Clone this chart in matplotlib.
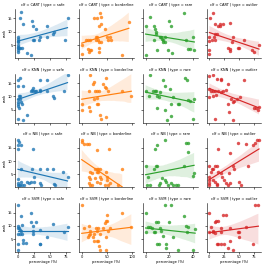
import numpy as np
import pandas as pd
import matplotlib
matplotlib.use("Agg")
import matplotlib.pyplot as plt
import seaborn as sns

clfs = ["CART", "KNN", "NB", "SVM"]
types = ["safe", "borderline", "rare", "outlier"]
x_ticks = {"safe": [0, 25, 50, 75], "borderline": [0, 50, 100], "rare": [0, 20, 40], "outlier": [0, 25, 50, 75]}
y_ticks = [5, 10, 15]

cart_safe_pct = [3, 5, 8, 0, 0, 0, 0, 0, 0, 0, 0, 0, 2, 4, 7, 14, 21, 22, 24.5, 28.6, 24, 26, 34, 33, 45, 45, 55, 56, 74, 78]
cart_safe_rank = [15, 17.3, 13, 8, 7.2, 6.6, 6, 5, 4.1, 3.8, 3.2, 2.3, 4, 4, 4, 2, 1.4, 14, 12, 11, 7, 7, 8, 7, 12, 8, 9.3, 9.8, 7, 15]
cart_border_pct = [0, 0, 14, 12, 16, 18, 8, 12, 16, 25, 30, 36, 39, 35, 39, 28, 31, 28, 32, 35, 38, 35, 35, 50, 55, 51, 57, 46, 80, 93]
cart_border_rank = [5, 1.7, 2.3, 3.5, 3, 3, 7, 7, 7, 15, 15, 17, 15.5, 12, 13, 8, 8, 7, 7, 6, 6, 4, 2.4, 8, 8, 7, 7, 11, 1.3, 13.7]
cart_rare_pct = [0, 0, 3.6, 7, 8, 8.6, 7, 8.6, 9.6, 12, 13, 14, 15, 16, 16, 15, 20, 21.5, 22.4, 19, 32.5, 34, 36, 37, 39.5, 41]
cart_rare_rank = [12, 1.4, 15.5, 12, 11, 10, 7, 9, 3, 8, 8, 7.4, 7, 6, 8, 6, 14, 12, 2, 3, 17, 7, 3.5, 3.5, 8, 3]
cart_out_pct = [0, 0, 0, 0, 1, 6.5, 10, 15, 18, 17, 22, 10, 12, 7, 9, 4, 34, 37, 39, 31, 34, 34, 48, 50, 58, 72, 75, 83]
cart_out_rank = [8, 6.6, 3.2, 1.7, 15, 17, 13, 12, 12, 13, 13, 9, 9, 8, 7, 7, 13.4, 6, 8, 4, 3.5, 2.7, 4, 4, 7, 3, 2.3, 5]

knn_safe_pct = [0, 0, 4, 8, 0, 2, 3, 0, 0, 0, 2, 0, 4, 5, 7, 8, 14, 20, 22, 24, 23, 27, 29, 35, 35, 35, 45, 45, 55, 56, 73, 78]
knn_safe_rank = [16, 14, 16.8, 14, 9, 10, 10, 8, 7, 6.3, 5.7, 1.7, 9, 8, 7, 1, 3, 12, 12.5, 12, 13, 12, 12, 12, 16, 12.5, 16, 12, 10, 9.5, 12, 18]
knn_border_pct = [0, 0, 13.9, 15.8, 13.9, 15.8, 22, 25, 26.6, 31, 34.8, 23.4, 31, 29.7, 32.9, 36, 38, 42.4, 45.6, 48.7, 51.9, 47.5, 48.7, 80, 98]
knn_border_rank = [7, 5, 12, 18, 6, 4.5, 14.7, 15.5, 12, 12, 12, 9, 9.5, 7, 7, 3, 1.7, 14.7, 13.5, 13, 12, 16.8, 2.3, 12, 10]
knn_rare_pct = [0, 2.8, 3.6, 6.2, 7.7, 8.6, 9.6, 11.7, 12, 14.6, 16, 10, 16, 18, 20.7, 21.5, 21.5, 23, 27, 28, 33, 34.5, 36, 37, 39.5, 41]
knn_rare_rank = [12, 10, 18, 12, 12, 12, 10, 9.8, 11.6, 16, 13.8, 5.7, 4.8, 1, 12.8, 7, 2.7, 9.8, 7, 7, 16.8, 16, 8.5, 8.2, 1.7, 9]
knn_out_pct = [0, 0, 0, 6.5, 2, 5.5, 9.3, 14.8, 18.6, 6.5, 11, 12, 18.6, 20, 23, 27, 9, 31, 31, 36, 39, 42, 47, 51, 33, 39, 58, 75, 78, 82, 83]
knn_out_rank = [17.8, 12.8, 9.8, 18, 12, 12, 12, 12, 11.8, 10, 10.5, 16.5, 16.5, 16, 12, 12.3, 1.7, 14.7, 7, 9, 8, 8.3, 9, 9.7, 4, 1, 16, 5.7, 5.7, 4.8, 6]

nb_safe_pct = [0, 2, 0, 0, 5, 0, 0, 2, 4, 7, 9, 5, 5, 23, 22, 21, 25, 26, 35, 35, 36, 45, 55, 57, 58, 71, 78, 14, 18, 0]
nb_safe_rank = [18, 17, 16, 14.7, 16, 1.7, 1, 1, 1, 1, 1, 7, 2.3, 14.7, 7, 2, 4.2, 2.3, 7, 1.7, 1, 7, 7, 1.5, 1, 6, 4.2, 2, 1.7, 3.2]
nb_border_pct = [0, 0, 4.4, 9.5, 14, 30, 54, 27, 30, 33, 36, 30, 33, 17, 20, 14, 16, 14, 17, 20, 36, 39, 36, 47, 50, 50, 45, 52, 55, 71, 80, 27, 31]
nb_border_rank = [18, 17, 16.5, 16.5, 16.5, 14, 14.7, 7, 7, 7, 7, 6, 6, 6, 5.4, 4.2, 3.2, 1.7, 1, 1, 4.2, 3.2, 1.7, 6, 4.2, 3, 1, 1, 1.7, 1, 7, 3.6, 2]
nb_rare_pct = [0, 2, 3.6, 7, 7.7, 9.6, 8.6, 9.6, 11.3, 11.9, 16, 14, 16, 17.4, 18.8, 23, 21, 25.6, 27, 32.6, 34, 35.4, 36, 39.5, 40.8, 1.4]
nb_rare_rank = [8, 4.2, 1, 7, 14.7, 16, 8, 8, 1, 1.7, 18, 3.6, 3, 2.3, 1, 1, 1.7, 1, 1, 8, 16.8, 16.8, 13.5, 4.5, 5.4, 1]
nb_out_pct = [0, 0, 0, 0, 0, 2, 4, 6.5, 9, 6.5, 9, 12, 13, 15, 12, 15, 18.6, 21, 25, 27, 31, 34, 33, 34, 39, 42, 48, 50, 53, 61, 64, 73, 76, 80, 83]
nb_out_rank = [8, 4.2, 3, 1.7, 1, 6, 7, 7, 8, 3, 2.3, 1.5, 1, 14.7, 8, 6, 5.4, 4.2, 3, 1.7, 1, 1.7, 5.4, 13, 8, 7, 16.8, 2.3, 1, 16.5, 8, 16, 16.8, 17.8, 17.8]

svm_safe_pct = [0, 0, 0, 0, 0, 0, 5, 2, 3, 5, 6.6, 4, 8, 8, 6.6, 13, 20, 20, 24, 23, 24, 29, 34, 35, 34, 45, 55, 73, 78]
svm_safe_rank = [18, 9.8, 9, 7, 3.2, 1, 13.8, 9, 8.5, 8, 7, 7, 4.8, 3.6, 10.4, 3.6, 14.7, 11.6, 9.8, 8, 7, 11.6, 3.2, 3.2, 8.5, 5.7, 10.6, 7.5, 9.4]
svm_border_pct = [0, 4.4, 14, 17, 16, 12, 14, 22, 23.4, 24.7, 28.5, 29.7, 33, 36, 33, 34.8, 36, 31, 42, 45.6, 47.5, 50, 47.5, 52, 48.7, 50, 55, 80, 98]
svm_border_rank = [18, 9, 9.8, 7, 8.2, 5.7, 6.7, 5.7, 4.2, 7, 9, 8.2, 9, 7, 4.2, 2.3, 1, 4.2, 9, 11, 11.9, 11.9, 5.7, 8.2, 1, 14, 9, 14.7, 9.4]
svm_rare_pct = [0, 0, 2.2, 3.6, 5, 6.9, 7.7, 8.6, 10.5, 9.7, 11.3, 11.9, 13.2, 14.6, 16, 16.8, 17.4, 20, 21.5, 23.4, 27, 32.6, 34, 34.5, 35.3, 39.5, 41.7]
svm_rare_rank = [14.7, 7.5, 9.4, 9.4, 9, 7.5, 7.5, 11.6, 11.6, 3.2, 3.2, 9, 8, 6, 17.8, 3.2, 1.7, 11.6, 17.8, 5.7, 1, 13.5, 9.8, 7.5, 9.4, 1, 8.8]
svm_out_pct = [0, 0, 2.2, 5.5, 6.6, 9.3, 9.3, 11, 14.8, 12, 14.8, 18.6, 20, 18.6, 23, 27.3, 24, 31, 39, 34, 35, 47.5, 50, 50, 61, 73, 76.5, 82]
svm_out_rank = [14.7, 7.5, 9.4, 8.2, 7.5, 7.2, 11.6, 11.8, 11.8, 3.2, 3.2, 3.2, 9, 7.5, 14, 14, 3.2, 1.7, 1, 4.2, 9, 7.5, 7.5, 5.7, 9.4, 3.2, 17.8, 17.8]

series = {
    ("CART", "safe"): (cart_safe_pct, cart_safe_rank),
    ("CART", "borderline"): (cart_border_pct, cart_border_rank),
    ("CART", "rare"): (cart_rare_pct, cart_rare_rank),
    ("CART", "outlier"): (cart_out_pct, cart_out_rank),
    ("KNN", "safe"): (knn_safe_pct, knn_safe_rank),
    ("KNN", "borderline"): (knn_border_pct, knn_border_rank),
    ("KNN", "rare"): (knn_rare_pct, knn_rare_rank),
    ("KNN", "outlier"): (knn_out_pct, knn_out_rank),
    ("NB", "safe"): (nb_safe_pct, nb_safe_rank),
    ("NB", "borderline"): (nb_border_pct, nb_border_rank),
    ("NB", "rare"): (nb_rare_pct, nb_rare_rank),
    ("NB", "outlier"): (nb_out_pct, nb_out_rank),
    ("SVM", "safe"): (svm_safe_pct, svm_safe_rank),
    ("SVM", "borderline"): (svm_border_pct, svm_border_rank),
    ("SVM", "rare"): (svm_rare_pct, svm_rare_rank),
    ("SVM", "outlier"): (svm_out_pct, svm_out_rank),
}

rows = []
for (clf, typ), (px, rk) in series.items():
    for a, b in zip(px, rk):
        rows.append({"clf": clf, "type": typ, "percentage (%)": a, "rank": b})
df = pd.DataFrame(rows)

plt.rcParams.update({
    "font.size": 2.6,
    "axes.titlesize": 2.1,
    "axes.labelsize": 2.6,
    "xtick.labelsize": 2.6,
    "ytick.labelsize": 2.6,
    "axes.linewidth": 0.4,
    "xtick.major.width": 0.4,
    "ytick.major.width": 0.4,
    "xtick.major.size": 1.2,
    "ytick.major.size": 1.2,
    "xtick.major.pad": 0.8,
    "ytick.major.pad": 0.8,
    "axes.titlepad": 2.0,
    "axes.labelpad": 0.8,
})

g = sns.lmplot(data=df, x="percentage (%)", y="rank", row="clf", col="type", hue="type",
               row_order=clfs, col_order=types, hue_order=types, height=0.665, aspect=1,
               facet_kws=dict(sharex="col"), seed=0,
               scatter_kws=dict(s=6, linewidths=0), line_kws=dict(lw=0.85))
for (ri, ci), ax in np.ndenumerate(g.axes):
    ax.set_xticks(x_ticks[types[ci]])
    ax.set_yticks(y_ticks)
    ax.set_ylim(0.2, 18.6)
g.figure.set_size_inches(2.66, 2.68)
g.figure.subplots_adjust(left=0.058, right=0.983, bottom=0.06, top=0.967, wspace=0.17, hspace=0.32)
g.figure.savefig("out.png", dpi=100)
